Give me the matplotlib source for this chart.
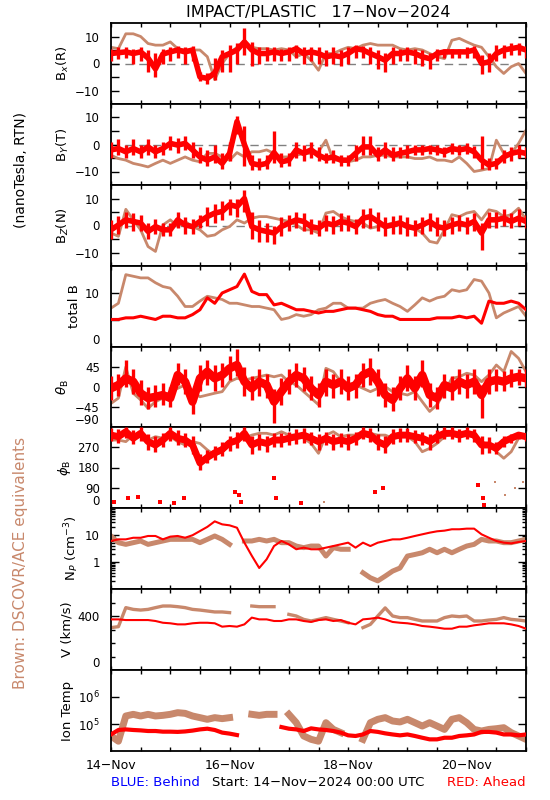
import numpy as np
import matplotlib
matplotlib.use('Agg')
import matplotlib.pyplot as plt
from matplotlib.ticker import FixedLocator, NullLocator

nan = np.nan

# sample times, hours after 14-Nov-2024 00:00 UTC
hours = np.arange(0, 169, 3)

# STEREO Ahead (red): typical value and low / high excursion in each 3 h bin
bx_ahead = [3.7, 4, 4.3, 3.7, 4.3, 2, -2, 3.5, 4.3, 5,
            4.3, 5, -5, -5.5, -3.5, 2.5, 3.7, 5, 8, 5,
            3.7, 3.7, 4.3, 3.7, 4.3, 5.5, 3.7, 4.3, 3.7, 2.5,
            3, 2.5, 3.7, 5.5, 5, 3.7, 2.5, 1.2, 3.7, 3.7,
            4.3, 3.7, 2.5, 1.8, 3.7, 4.3, 4.3, 4.3, 4.3, 5,
            0, 0.6, 3.7, 5, 5.5, 6, 5]
bx_ahead_lo = [1, 1.5, 2, 0, 1, -3, -5, 0, 1, 2,
               0, 1, -6.5, -7.5, -6, -3, -3, 0, 3, -1,
               0, 1, 1, 1, 1, 2, 0, 1, 0, -1,
               0, -1, 0, 2, 2, 0, -2, -3, 0, 1,
               1, 0, -1, -2, 1, 2, 2, 2, 2, 2,
               -4, -3, 1, 2, 3, 3, 2]
bx_ahead_hi = [5.5, 6, 6, 5.5, 6, 5, 4, 5.5, 6, 6.5,
               6, 6.5, -3, -3.5, 2, 5, 7, 7.5, 13, 8,
               6, 6, 6, 5.5, 6, 7, 6, 6, 6, 5,
               6, 5, 6, 7, 6.5, 6, 5, 4, 6, 5.5,
               6, 5.5, 5, 4, 5.5, 5.5, 5.5, 5.5, 6, 6.5,
               3, 4, 7, 7, 7.5, 7.5, 6.5]
by_ahead = [-2, -1.5, -2.7, -1.5, -2.7, -0.9, -2.7, -1.5, 0.4, -0.2,
            0.4, -2, -4.6, -5.8, -4.6, -7, -3.3, 8.5, 0, -7,
            -7.6, -7, -3, -6.4, -5.8, -2, -3.3, -2, -4, -5.2,
            -4.6, -5.8, -5.8, -3.3, -0.9, -0.9, -4, -2, -4, -3.3,
            -2.7, -2, -2, -1.5, -2, -2.7, -1.5, -2, -1.5, -2.7,
            -5.8, -7.6, -7, -4.6, -3.3, -2.7, -3.3]
by_ahead_lo = [-5, -4, -5, -4, -5, -4, -5, -4, -2, -3,
               -2, -5, -7, -8, -7, -9, -6, 4, -8, -9.5,
               -9.5, -9, -7, -8.5, -8, -5, -6, -5, -6, -7,
               -7, -8, -8, -6, -4, -4, -6, -5, -6, -5,
               -5, -4, -4, -3.5, -4, -4.5, -3.5, -4, -3.5, -5,
               -9, -9.5, -9, -7, -6, -5, -5]
by_ahead_hi = [1, 2, 0, 2, 0, 2, 0, 1, 3, 2.5,
               3, 1, -1, -2, 0, -3, 1, 10.5, 7, -4,
               -5, -4, 5, -3, -3, 1, 0, 1, -1, -3,
               -2, -4, -4, 0, 3, 3, -1, 1, -1, -1,
               0, 0, 0, 0, 0, -1, 0.5, 0, 0.5, -0.5,
               3, -5, -5, -2, -1, 0, -1]
bz_ahead = [-1.6, 0.2, 2.1, 1.5, 0.9, -2.2, -0.4, -1.6, -1.6, 2.1,
            0.2, -0.4, 1.5, 3.3, 4.6, 5.2, 7.7, 7, 10, -0.4,
            -1.6, -2.2, -2.8, -0.4, 0.9, 2.1, 1.5, -0.4, -1, 0.9,
            0.2, 1.5, 0.9, -0.4, 2.7, 3.3, 1.5, -0.4, 0.2, 0.9,
            -0.4, -1, 0.2, 1.5, -0.4, -1, 0.2, 0.9, 0.2, 1.5,
            -2.8, 2.1, 2.1, 2.7, 1.5, 2.7, 1.5]
bz_ahead_lo = [-5, -3, -1, -2, -2, -5, -3, -4, -4, -1,
               -3, -3, -1, 0, 1, 2, 4, 3, 5, -5,
               -6, -6, -7, -4, -2, -1, -2, -3, -4, -2,
               -3, -2, -2, -3, -1, -1, -2, -4, -3, -3,
               -4, -4, -3, -2, -4, -4, -3, -2, -3, -2,
               -9, -1, -1, 0, -1, 0, -1]
bz_ahead_hi = [2, 3.5, 5, 4.5, 4, 1, 2.5, 1, 1, 5,
               3, 2.5, 4, 7, 8, 9, 10, 10, 13, 5,
               2, 1, 0, 3, 4, 5, 4.5, 2.5, 2, 4,
               3.5, 4.5, 4, 2.5, 6, 6.5, 5, 3, 3.5, 4,
               3, 2, 3, 4.5, 3, 2, 3, 4, 3, 4.5,
               1, 5, 5, 6, 4.5, 6, 4]
theta_ahead = [-3, 4.5, 19.5, 12, -14, -25, -22, -18, -25, 27,
               12, -33, 19.5, 34.5, 19.5, 27, 42, 49.5, 12, -3,
               12, 4.5, -33, -10.5, 12, 27, 19.5, -3, -18, 12,
               4.5, 12, -3, 4.5, 27, 34.5, 12, -18, -29, -3,
               19.5, -3, 27, -18, -25, 4.5, -3, 12, 4.5, 12,
               -18, 12, 15.8, 12, 19.5, 23, 19.5]
theta_ahead_lo = [-30, -20, 0, -15, -40, -50, -45, -40, -45, 5,
                  -15, -60, -10, 5, -10, 0, 15, 25, -20, -30,
                  -20, -25, -80, -40, -15, 0, -10, -30, -45, -20,
                  -25, -15, -30, -25, 0, 5, -20, -45, -55, -30,
                  -10, -30, 0, -45, -50, -25, -30, -15, -25, -15,
                  -70, -15, -10, -10, 0, 5, 0]
theta_ahead_hi = [25, 30, 60, 40, 15, 0, 5, 10, 0, 55,
                  40, -5, 50, 60, 50, 55, 70, 85, 45, 25,
                  40, 30, -5, 20, 40, 55, 45, 25, 10, 40,
                  30, 40, 25, 30, 55, 65, 40, 10, 0, 25,
                  50, 25, 60, 10, 0, 30, 25, 40, 30, 40,
                  5, 40, 40, 35, 40, 40, 40]
phi_ahead = [324, 317, 339, 310, 332, 295, 280, 302, 332, 310,
             302, 280, 200, 225, 245, 260, 290, 300, 332, 280,
             295, 287, 302, 302, 310, 317, 324, 310, 295, 310,
             295, 302, 295, 310, 332, 324, 295, 280, 317, 324,
             324, 317, 310, 295, 317, 332, 332, 324, 332, 324,
             280, 280, 265, 295, 310, 324, 317]
phi_ahead_lo = [300, 290, 310, 285, 300, 260, 250, 270, 300, 280,
                270, 240, 170, 200, 215, 230, 255, 265, 300, 240,
                260, 250, 270, 270, 280, 285, 290, 280, 260, 280,
                260, 270, 260, 280, 305, 295, 260, 245, 285, 295,
                295, 290, 280, 260, 290, 305, 305, 295, 305, 295,
                240, 245, 240, 270, 290, 305, 300]
phi_ahead_hi = [355, 350, 360, 345, 360, 330, 320, 335, 360, 345,
                335, 320, 240, 260, 275, 295, 320, 340, 360, 320,
                330, 320, 335, 335, 340, 350, 355, 340, 330, 340,
                330, 335, 330, 340, 360, 355, 330, 320, 350, 355,
                355, 345, 340, 330, 345, 360, 360, 350, 360, 350,
                320, 315, 295, 320, 330, 340, 335]
# isolated points that wrap through 0 deg
phi_low_hours_ahead = [1.4, 6.8, 10.8, 20, 25.7, 29.7, 50, 52, 52.7, 66, 66.8, 77, 106.7, 110, 148.5, 150.6, 151]
phi_low_ahead = [28, 43, 50, 28, 21, 43, 73, 58, 28, 132, 43, 21, 73, 87, 102, 43, 13]

bt_ahead = [5.1, 5.1, 5.4, 5.4, 5.7, 5.4, 5.1, 5.7, 5.7, 5.4,
            5.4, 6, 6.9, 9.1, 8.1, 10, 10.6, 11.2, 13.5, 10.3,
            9.7, 9.7, 7.8, 8.1, 7.5, 6.9, 6.9, 6.6, 6.3, 6.6,
            6.6, 6.9, 7.2, 7.2, 6.9, 6.6, 6, 5.7, 5.7, 5.1,
            5.1, 5.1, 5.1, 5.1, 5.4, 5.4, 5.4, 5.7, 5.4, 5.7,
            4.4, 8.5, 8.1, 8.1, 8.5, 8.1, 6.9]
np_ahead = [6.0, 6.9, 6.9, 7.9, 7.9, 9.2, 9.2, 6.9, 8.7, 9.2,
            7.9, 9.8, 14, 20, 32, 24.8, 22.8, 18.6, 5.2, 1.7,
            0.6, 1.26, 3.9, 6.0, 4.5, 2.96, 3.4, 2.96, 2.96, 3.4,
            3.9, 4.5, 5.2, 3.4, 5.2, 3.9, 5.2, 6.0, 6.9, 6.9,
            7.9, 9.2, 10.6, 12.2, 13.7, 14.5, 16.3, 16.3, 17.2, 17.2,
            10.6, 7.9, 6.0, 5.2, 4.9, 5.5, 6.0]
v_ahead = [375, 375, 370, 370, 370, 370, 363, 350, 346, 338,
           338, 346, 350, 350, 346, 321, 326, 321, 338, 388,
           375, 375, 363, 363, 375, 375, 363, 356, 370, 375,
           363, 370, 350, 338, 375, 380, 388, 375, 356, 350,
           346, 338, 326, 321, 314, 306, 306, 321, 321, 331,
           338, 346, 346, 346, 338, 326, 306]
t_ahead = [41000, 60000, 63000, 60000, 58000, 55000, 55000, 52000, 52000, 51000,
           53000, 57000, 63000, 67000, 60000, 48000, 44000, 39000, nan, nan,
           nan, nan, nan, 77000, 67000, 63000, 55000, 69000, 63000, 60000,
           55000, 48000, 38000, 36000, 41000, 55000, 51000, 45000, 41000, 38000,
           41000, 36000, 31000, 27000, 27000, 31000, 31000, 36000, 38000, 41000,
           51000, 51000, 48000, 41000, 41000, 38000, 41000]

# DSCOVR/ACE equivalents (brown)
bx_l1 = [6, 5.5, 11, 11, 10, 7.4, 6.8, 6.8, 8, 5.5,
         5, 5, 5, 2.5, -6, 0, 3.7, 6, 6.8, 6,
         5.5, 5.5, 5, 5.5, 5, 2.5, 3.7, 1.2, -2.5, 3.7,
         3.7, 5, 6, 5.5, 6.8, 7.4, 6.8, 6.8, 6.8, 5.5,
         5, 5.5, 5, 3.7, 2.5, 1.8, 8.6, 9.3, 8, 6.8,
         6, 2.5, -1.2, -3.7, -1.2, 0, -3.7]
by_l1 = [-4, -5.2, -5.8, -7, -7.6, -8.3, -7, -5.8, -7, -5.8,
         -4.6, -5.8, -6.4, -3.3, -3.3, -4.6, -5.8, -3, -4.6, -2.7,
         -2.7, -2, -3.3, -4.6, -4.6, -4, -3.3, -3.3, -2.7, 1.6,
         -5.8, -5.8, -6.4, -5.8, -4.6, -4.6, -4, -4, -4.6, -4.6,
         -4.6, -5.2, -5.2, -4.6, -5.8, -5.8, -6.4, -4.6, -7, -10,
         -9.5, -8.9, 1.6, -3.3, -3.3, 0.4, 5.3]
bz_l1 = [-2.8, -4, 6, 2.1, -1.6, -7.8, -9.6, 0.2, 2.1, -0.4,
         1.5, -0.4, -1.6, -4, -3.5, -1.6, -0.4, 2.1, 0.9, 2.7,
         3.3, 3.3, 2.7, 2.1, 1.5, 0.2, -1.6, -1.6, -2.8, 4.6,
         5.2, 3.3, 2.1, 1.5, 0.9, -1, -0.4, 0.2, 0.9, 1.5,
         0.2, -1, -2.8, -5.9, -6.5, -1.6, 4, 3.3, 4.6, 5.2,
         2.1, 5.8, 5.2, 3.3, 4, 6.4, 2.1]
bt_l1 = [7.2, 8.1, 13.4, 13.1, 12.8, 12.8, 11.9, 11.2, 10.9, 9.4,
         7.5, 7.5, 8.5, 9.4, 9.1, 8.8, 8.1, 8.1, 7.8, 7.5,
         7.5, 7.2, 6.9, 5.1, 5.4, 6, 5.7, 6, 6.9, 7.2,
         8.1, 8.1, 7.2, 7.2, 7.2, 8.1, 8.5, 8.8, 8.1, 7.5,
         6.6, 7.8, 9.1, 8.5, 9.1, 9.4, 10.6, 10.3, 10.6, 12.5,
         12.2, 10, 5.4, 6.3, 6.9, 7.5, 5.7]
theta_l1 = [-37, -25, 45, -14, -29, -48, -33, -25, -10.5, -3,
            4.5, -10.5, -22, -18, -14, -10.5, 12, 19.5, 15.8, 19.5,
            23, 27, 23, 27, 12, 4.5, -10.5, -25, -40, 42,
            34.5, 12, 8, 4.5, -3, -10.5, -3, 0.8, -10.5, -14,
            -18, -10.5, -33, -55, -40, -10.5, 19.5, 23, 31, 27,
            12, 27, 49.5, 34.5, 80, 64.5, 34.5]
phi_l1 = [302, 302, 295, 324, 324, 302, 317, 310, 317, 295,
          280, 295, 287, 258, 235, 250, 280, 300, 310, 324,
          332, 332, 324, 339, 324, 324, 310, 287, 243, 324,
          339, 317, 324, 324, 324, 332, 324, 324, 310, 317,
          317, 295, 250, 265, 287, 317, 332, 332, 332, 317,
          295, 280, 250, 221, 250, 310, 324]
phi_low_hours_l1 = [86.4, 155.3, 159.4, 163.4, 166.8]
phi_low_l1 = [28, 117, 58, 87, 117]
np_l1 = [9.2, 5.2, 4.5, 5.2, 6.0, 4.5, 5.2, 6.0, 6.9, 6.9,
         6.9, 6.9, 5.2, 6.9, 9.2, 6.9, 4.5, nan, 6.0, 6.0,
         6.9, 6.0, 6.9, 5.2, 5.2, 3.9, 3.4, 3.9, 3.9, 1.66,
         3.4, 2.96, 2.96, nan, 0.4, 0.26, 0.2, 0.3, 0.46, 0.6,
         1.66, 1.9, 2.2, 2.96, 2.2, 2.96, 2.2, 2.96, 3.9, 4.5,
         6.9, 6.0, 6.0, 5.2, 5.2, 6.0, 6.9]
v_l1 = [314, 321, 462, 449, 444, 449, 462, 474, 474, 469,
        462, 449, 444, 437, 430, 430, 425, nan, nan, 474,
        469, 469, 469, nan, 412, 400, 375, 363, 375, 388,
        375, 363, 350, nan, 314, 338, 400, 460, 400, 388,
        388, 375, 363, 363, 363, 388, 400, 395, 400, 363,
        363, 370, 375, 388, 375, 370, 363]
t_l1 = [36000, 23000, 198000, 228000, 198000, 228000, 198000, 209000, 228000, 263000,
        248000, 198000, 172000, 149000, 172000, 158000, 172000, nan, nan, 228000,
        209000, 228000, 228000, nan, 228000, 112000, 36000, 27000, 23000, 112000,
        63000, 48000, nan, nan, 27000, 112000, 149000, 172000, 129000, 119000,
        149000, 112000, 84000, 112000, 84000, 63000, 149000, 172000, 112000, 63000,
        55000, 63000, 67000, 73000, 48000, 36000, 27000]

RED = '#ff0000'
BROWN = '#c8886c'

days = hours / 24.0

B_TICKS = [-10, -5, 0, 5, 10]
B_LABELS = ['\u221210', '', '0', '', '10']

panels = [
    dict(l1=bx_l1, ahead=bx_ahead, band=(bx_ahead_lo, bx_ahead_hi), label=r'B$_x$(R)', lim=(-15, 15),
         ticks=B_TICKS, labels=B_LABELS, zero=True, lw=(2.0, 4.0)),
    dict(l1=by_l1, ahead=by_ahead, band=(by_ahead_lo, by_ahead_hi), label=r'B$_Y$(T)', lim=(-15, 15),
         ticks=B_TICKS, labels=B_LABELS, zero=True, lw=(2.0, 4.0)),
    dict(l1=bz_l1, ahead=bz_ahead, band=(bz_ahead_lo, bz_ahead_hi), label=r'B$_Z$(N)', lim=(-15, 15),
         ticks=B_TICKS, labels=B_LABELS, zero=True, lw=(2.0, 4.0)),
    dict(l1=bt_l1, ahead=bt_ahead, label='total B', lim=(0, 15),
         ticks=[0, 5, 10], labels=['0', '', '10'], lw=(2.0, 2.2)),
    dict(l1=theta_l1, ahead=theta_ahead, band=(theta_ahead_lo, theta_ahead_hi), label=r'$\theta_{\rm B}$',
         lim=(-90, 90), ticks=[-90, -45, 0, 45], labels=['\u221290', '\u221245', '0', '45'], lw=(2.0, 6.0)),
    dict(l1=phi_l1, ahead=phi_ahead, band=(phi_ahead_lo, phi_ahead_hi), label=r'$\phi_{\rm B}$',
         lim=(0, 360), ticks=[0, 90, 180, 270], labels=['0', '90', '180', '270'], lw=(2.0, 5.0)),
    dict(l1=np_l1, ahead=np_ahead, label=r'N$_P$ (cm$^{-3}$)', lim=(0.1, 100), log=True,
         ticks=[1, 10], labels=['1', '10'], lw=(3.6, 1.5)),
    dict(l1=v_l1, ahead=v_ahead, label='V (km/s)', lim=(0, 600),
         ticks=[0, 400], labels=['0', '400'], minor=[100, 200, 300, 500], lw=(2.4, 1.5)),
    dict(l1=t_l1, ahead=t_ahead, label='Ion Temp', lim=(1e4, 1e7), log=True,
         ticks=[1e5, 1e6], labels=['10$^{5}$', '10$^{6}$'], lw=(5.0, 3.0)),
]

W, H = 550, 800
edges = [23, 104, 185, 266, 347, 427, 508, 589, 670, 751]
x0, x1 = 111, 526

fig = plt.figure(figsize=(W / 100, H / 100), dpi=100)

for i, p in enumerate(panels):
    top, bot = edges[i], edges[i + 1]
    ax = fig.add_axes([x0 / W, 1 - bot / H, (x1 - x0) / W, (bot - top) / H])
    if p.get('log'):
        ax.set_yscale('log')
    if p.get('zero'):
        ax.axhline(0, color='#808080', lw=1.0, ls=(0, (6, 4)), zorder=1)
    lw_l1, lw_ahead = p['lw']
    ax.plot(days, p['l1'], color=BROWN, lw=lw_l1, zorder=2)
    if 'band' in p:
        lo, hi = p['band']
        ax.vlines(days, lo, hi, color=RED, lw=2.4, zorder=3)
    ax.plot(days, p['ahead'], color=RED, lw=lw_ahead, zorder=3)
    if i == 5:
        ax.plot(np.array(phi_low_hours_l1) / 24, phi_low_l1, 's', color=BROWN, ms=2, mew=0, zorder=2)
        ax.plot(np.array(phi_low_hours_ahead) / 24, phi_low_ahead, 's', color=RED, ms=2.2, mew=0, zorder=3)

    ax.set_xlim(0, 7)
    ax.set_ylim(*p['lim'])
    ax.xaxis.set_major_locator(FixedLocator(np.arange(0, 7.01, 0.5)))
    ax.xaxis.set_minor_locator(NullLocator())
    ax.yaxis.set_major_locator(FixedLocator(p['ticks']))
    ax.set_yticklabels(p['labels'])
    if 'minor' in p:
        ax.yaxis.set_minor_locator(FixedLocator(p['minor']))
    elif i == 6:
        minors = [m * d for d in (0.1, 1, 10) for m in range(2, 10)]
        ax.yaxis.set_minor_locator(FixedLocator(minors))
    else:
        ax.yaxis.set_minor_locator(NullLocator())
    ax.tick_params(axis='x', which='major', direction='in', top=True, bottom=True,
                   length=3, width=1, pad=6, labelsize=9)
    ax.tick_params(axis='y', which='major', direction='in', left=True, right=True,
                   length=5.5, width=1, pad=8, labelsize=8.5)
    ax.tick_params(axis='y', which='minor', direction='in', left=True, right=True,
                   length=3, width=1)
    # bottom label sits just above the frame
    for lab, val in zip(ax.get_yticklabels(), p['ticks']):
        if val == p['lim'][0]:
            lab.set_va('bottom')
    if i == len(panels) - 1:
        names = {0: '14\u2212Nov', 4: '16\u2212Nov', 8: '18\u2212Nov', 12: '20\u2212Nov'}
        ax.set_xticklabels([names.get(k, '') for k in range(15)])
    else:
        ax.set_xticklabels([])
    ax.set_ylabel(p['label'], fontsize=9.5, labelpad=3)
    for s in ax.spines.values():
        s.set_linewidth(1.3)

fig.text(318 / W, 1 - 12 / H, 'IMPACT/PLASTIC   17\u2212Nov\u22122024', ha='center', va='center', fontsize=11.5)
fig.text(21 / W, 1 - 170 / H, '(nanoTesla, RTN)', rotation=90, ha='center', va='center', fontsize=10)
fig.text(21 / W, 1 - 563 / H, 'Brown: DSCOVR/ACE equivalents', rotation=90, ha='center', va='center',
         fontsize=11, color=BROWN)
fig.text(111 / W, 1 - 783 / H, 'BLUE: Behind', ha='left', va='center', fontsize=9.5, color='#0000ff')
fig.text(318 / W, 1 - 782 / H, 'Start: 14\u2212Nov\u22122024 00:00 UTC', ha='center', va='center', fontsize=9.5)
fig.text(526 / W, 1 - 783 / H, 'RED: Ahead', ha='right', va='center', fontsize=9.5, color=RED)

fig.savefig('out.png', dpi=100)
